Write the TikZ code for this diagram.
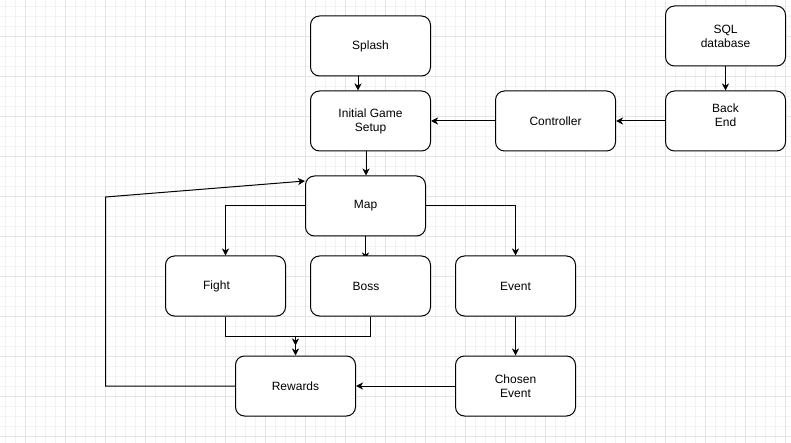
\documentclass[tikz,border=0pt]{standalone}
\usepackage{fontspec}
\setmainfont{Liberation Sans}
\usetikzlibrary{arrows.meta}
\pgfdeclarelayer{background}
\pgfsetlayers{background,main}
\definecolor{minorgrid}{HTML}{F3F3F3}
\definecolor{majorgrid}{HTML}{E4E4E4}
\tikzset{
  box/.style={draw=black, line width=1pt, rounded corners=9pt, minimum width=120pt, minimum height=60pt, inner sep=0pt, align=center, font=\fontsize{12pt}{14pt}\selectfont, fill=white},
  boxtext/.style={align=center, font=\fontsize{12pt}{14pt}\selectfont, inner sep=0pt},
  arr/.style={draw=black, line width=1pt, -{Stealth[length=7pt,width=7pt,inset=2pt]}},
  ln/.style={draw=black, line width=1pt}
}
\begin{document}
\begin{tikzpicture}[x=1pt,y=-1pt]
\useasboundingbox (0,0) rectangle (791,443);
\begin{pgfonlayer}{background}
\fill[white] (0,0) rectangle (791,443);
% minor grid
\foreach \i in {0,...,79} { \draw[minorgrid, line width=0.8pt] (5.5+10*\i,0) -- (5.5+10*\i,443); }
\foreach \j in {0,...,44} { \draw[minorgrid, line width=0.8pt] (0,6+10*\j) -- (791,6+10*\j); }
% major grid
\foreach \i in {0,...,19} { \draw[majorgrid, line width=0.9pt] (25.5+40*\i,0) -- (25.5+40*\i,443); }
\foreach \j in {0,...,10} { \draw[majorgrid, line width=0.9pt] (0,36+40*\j) -- (791,36+40*\j); }
\end{pgfonlayer}

\node[box] (splash) at (370.5,46) {Splash};
\node[box] (init) at (370.5,121) {Initial Game\\Setup};
\node[box] (ctrl) at (555.5,121) {Controller};
\node[box] (sql) at (725.5,36) {SQL\\database};
\node[box, label={[boxtext, yshift=6pt]center:Back\\End}] (back) at (725.5,121) {};
\node[box] (map) at (365.5,206) {Map};
\node[box] (fight) at (225.5,286) {\hspace*{-18pt}Fight};
\node[box] (boss) at (370.5,286) {\hspace*{-9pt}Boss};
\node[box] (event) at (515.5,286) {Event};
\node[box] (chosen) at (515.5,386) {Chosen\\Event};
\node[box] (rewards) at (295.5,386) {Rewards};

\coordinate (rwtop) at ([yshift=10pt]rewards.north);
\coordinate (loop) at (105.5,197);
\coordinate (bossin) at ([yshift=-4pt]boss.north -| map.south);

\draw[arr] ([xshift=-12.5pt]splash.south) -- ([xshift=-12.5pt]init.north);
\draw[arr] ([xshift=-4.5pt]init.south) -- ([xshift=0.5pt]map.north);
\draw[arr] (sql.south) -- (back.north);
\draw[arr] (back.west) -- (ctrl.east);
\draw[arr] (ctrl.west) -- (init.east);
\draw[arr] (map.west) -| (fight.north);
\begin{pgfonlayer}{background}
\draw[arr] (map.south) -- (bossin);
\end{pgfonlayer}
\draw[arr] (map.east) -| (event.north);
\draw[arr] (event.south) -- (chosen.north);
\draw[arr] (chosen.west) -- (rewards.east);
\draw[arr] (fight.south) -- ++(0,20) -| (rewards.north);
\draw[arr] (boss.south) -- ++(0,20) -| (rwtop);
\draw[arr] (rewards.west) -| (loop) -- ([yshift=25pt]map.west);
\end{tikzpicture}
\end{document}
